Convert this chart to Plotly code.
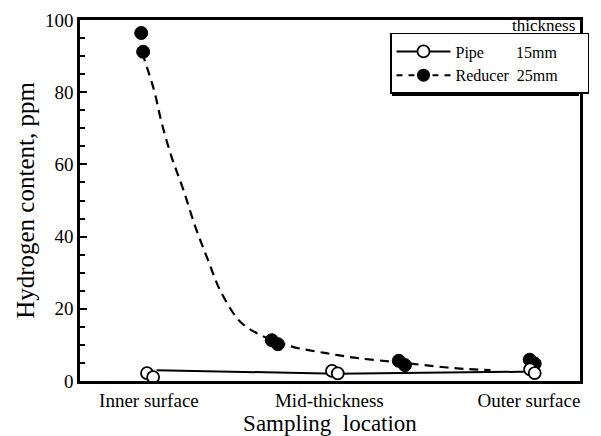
import plotly.graph_objects as go

# Sampling location scale (relative position through the wall)
loc_ticks = [0.0, 0.47, 0.99]
loc_labels = ["Inner surface", "Mid-thickness", "Outer surface"]

# Pipe (15 mm) measured points
pipe_x = [-0.005, 0.011, 0.477, 0.492, 0.993, 1.005]
pipe_y = [2.2, 1.1, 2.8, 2.1, 3.2, 2.2]
# Pipe connecting line
pipe_line_x = [0.02, 0.49, 1.0]
pipe_line_y = [3.0, 2.0, 2.6]

# Reducer (25 mm) measured points
red_x = [-0.02, -0.015, 0.32, 0.336, 0.651, 0.667, 0.992, 1.005]
red_y = [96.4, 91.2, 11.3, 10.2, 5.6, 4.4, 5.9, 4.8]
# Reducer fitted (dashed) curve
red_curve_x = [-0.018, 0.013, 0.033, 0.059, 0.090, 0.121, 0.154, 0.187,
               0.238, 0.282, 0.326, 0.377, 0.462, 0.546, 0.649, 0.718,
               0.803, 0.890]
red_curve_y = [91.0, 80.7, 71.6, 62.1, 52.9, 42.7, 33.5, 24.8,
               16.4, 13.2, 11.2, 9.4, 7.7, 6.3, 5.2, 4.4, 3.5, 3.0]

serif = "Liberation Serif"
NB = "\u00a0"

fig = go.Figure()

fig.add_trace(go.Scatter(x=pipe_line_x, y=pipe_line_y, mode="lines",
                         line=dict(color="black", width=2),
                         showlegend=False, cliponaxis=False))
fig.add_trace(go.Scatter(x=red_curve_x, y=red_curve_y, mode="lines",
                         line=dict(color="black", width=2.2, dash="9px,6px",
                                   shape="spline", smoothing=1),
                         showlegend=False))
fig.add_trace(go.Scatter(x=red_x, y=red_y, mode="markers",
                         marker=dict(symbol="circle", size=13, color="black",
                                     line=dict(color="black", width=1)),
                         showlegend=False, cliponaxis=False))
fig.add_trace(go.Scatter(x=pipe_x, y=pipe_y, mode="markers",
                         marker=dict(symbol="circle", size=12, color="white",
                                     line=dict(color="black", width=1.8)),
                         showlegend=False, cliponaxis=False))

# legend entries
fig.add_trace(go.Scatter(x=[None], y=[None], mode="lines+markers",
                         name="Pipe" + NB * 8 + "15mm" + NB * 6,
                         line=dict(color="black", width=2),
                         marker=dict(symbol="circle", size=12, color="white",
                                     line=dict(color="black", width=1.8))))
fig.add_trace(go.Scatter(x=[None], y=[None], mode="lines+markers",
                         name="Reducer" + NB * 2 + "25mm" + NB * 6,
                         line=dict(color="black", width=2, dash="6px,6px"),
                         marker=dict(symbol="circle", size=13, color="black")))

# legend shadow (offset black box behind the legend)
shadow = dict(type="rect", xref="paper", yref="paper",
              x0=(397 - 80) / 508, x1=(587 - 80) / 508,
              y0=(381 - 96) / 361, y1=(381 - 37) / 361,
              fillcolor="black", line=dict(width=0), layer="above")

fig.update_layout(
    width=601, height=436,
    margin=dict(l=80, r=13, t=20, b=55),
    paper_bgcolor="white", plot_bgcolor="white",
    font=dict(family=serif, color="black", size=16),
    showlegend=True,
    legend=dict(x=0.620, y=0.964, xanchor="left", yanchor="top",
                bgcolor="white", bordercolor="black", borderwidth=1.5,
                font=dict(family=serif, size=16), itemwidth=54,
                tracegroupgap=0),
    shapes=[shadow],
    annotations=[dict(text="thickness", xref="paper", yref="paper",
                      x=0.993, y=0.986, xanchor="right", yanchor="middle",
                      showarrow=False, font=dict(family=serif, size=17))],
)

fig.update_xaxes(range=[-0.1795, 1.123], tickvals=loc_ticks, ticktext=loc_labels,
                 ticks="", showgrid=False, zeroline=False, automargin=False,
                 showline=True, linecolor="black", linewidth=2.5, mirror=True,
                 tickfont=dict(family=serif, size=19),
                 title=dict(text="Sampling  location",
                            font=dict(family=serif, size=23), standoff=16))
fig.update_yaxes(range=[0, 100], tickvals=[0, 20, 40, 60, 80, 100],
                 ticks="inside", ticklen=7, tickwidth=2, tickcolor="black",
                 minor=dict(dtick=5, ticks="inside", ticklen=5, tickwidth=1.5,
                            tickcolor="black"),
                 showgrid=False, zeroline=False, automargin=False,
                 showline=True, linecolor="black", linewidth=2.5, mirror=True,
                 tickfont=dict(family=serif, size=19),
                 title=dict(text="Hydrogen content, ppm",
                            font=dict(family=serif, size=25), standoff=4))

fig.write_html("out.html")
